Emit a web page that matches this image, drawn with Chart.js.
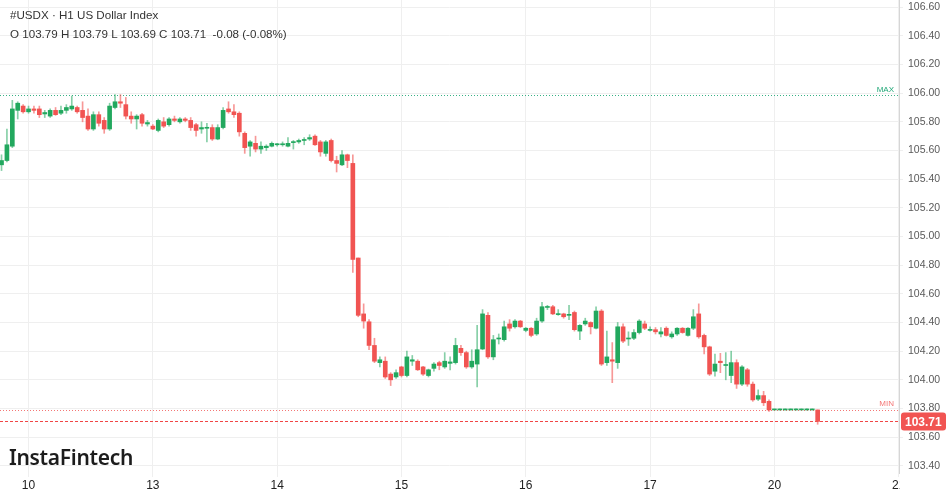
<!DOCTYPE html>
<html>
<head>
<meta charset="utf-8">
<script src="https://cdn.jsdelivr.net/npm/chart.js@4"></script>
<style>
  html, body { margin: 0; padding: 0; background: #fff; }
  #wrap { position: relative; width: 949px; height: 494px; }
  #head { position: absolute; left: 10px; top: 5px; font: 11.6px "Liberation Sans", Arial, sans-serif; color: #333; line-height: 19px; }
  #logo { position: absolute; left: 9px; top: 443px; font: 600 21px "Noto Sans", sans-serif; color: #1c1c1c; letter-spacing: -0.3px; }
</style>
</head>
<body>
<div id="wrap">
  <canvas id="chart"></canvas>
  <div id="head">
    <div>#USDX · H1 US Dollar Index</div>
    <div>O 103.79 H 103.79 L 103.69 C 103.71&nbsp; -0.08 (-0.08%)</div>
  </div>
  <div id="logo">InstaFintech</div>
</div>
<script>
// hourly candles, 23 per trading day, Jan 9 (last hours) .. Jan 20
const opens = [
  105.50, 105.53, 105.63, 105.88, 105.91,
  105.87, 105.89, 105.89, 105.855, 105.84, 105.88, 105.86, 105.88, 105.89, 105.90, 105.88, 105.84, 105.75, 105.85, 105.81, 105.75, 105.90, 105.94, 105.92, 105.84, 105.82, 105.85, 105.785,
  105.77, 105.74, 105.80, 105.78, 105.82, 105.80, 105.82, 105.81, 105.78, 105.75, 105.755, 105.76, 105.68, 105.76, 105.89, 105.87, 105.86, 105.72, 105.63, 105.65, 105.61, 105.62, 105.63, 105.64, 105.64,
  105.63, 105.655, 105.66, 105.67, 105.68, 105.70, 105.66, 105.58, 105.67, 105.53, 105.50, 105.57, 105.51, 104.85, 104.46, 104.405, 104.24, 104.12, 104.13, 104.04, 104.02,
  104.09, 104.03, 104.13, 104.13, 104.09, 104.03, 104.08, 104.12, 104.09, 104.115, 104.12, 104.22, 104.19, 104.09, 104.11, 104.215, 104.45, 104.16, 104.285, 104.28, 104.39, 104.37, 104.41,
  104.345, 104.36, 104.32, 104.41, 104.505, 104.51, 104.455, 104.46, 104.45, 104.47, 104.34, 104.39, 104.40, 104.36, 104.48, 104.12, 104.14, 104.12, 104.37, 104.285, 104.29, 104.33, 104.39,
  104.345, 104.35, 104.32, 104.36, 104.30, 104.32, 104.36, 104.31, 104.36, 104.46, 104.31, 104.23, 104.06, 104.13, 104.10, 104.03, 104.12, 103.97, 104.07, 103.97, 103.865, 103.89, 103.85,
  103.79, 103.79, 103.79, 103.79, 103.79, 103.79, 103.79, 103.79, 103.79
];
const highs = [
  105.57, 105.75, 105.95, 105.94, 105.92,
  105.91, 105.91, 105.91, 105.88, 105.89, 105.90, 105.91, 105.92, 105.98, 105.91, 105.94, 105.89, 105.87, 105.87, 105.83, 105.93, 105.99, 105.99, 105.97, 105.87, 105.85, 105.86, 105.81,
  105.78, 105.82, 105.83, 105.83, 105.84, 105.83, 105.83, 105.83, 105.79, 105.80, 105.79, 105.78, 105.78, 105.90, 105.94, 105.92, 105.87, 105.73, 105.67, 105.70, 105.66, 105.64, 105.66, 105.65, 105.66,
  105.69, 105.67, 105.68, 105.69, 105.71, 105.71, 105.67, 105.67, 105.68, 105.56, 105.60, 105.575, 105.57, 104.85, 104.53, 104.42, 104.29, 104.16, 104.16, 104.05, 104.07,
  104.095, 104.20, 104.17, 104.14, 104.095, 104.075, 104.12, 104.13, 104.19, 104.16, 104.29, 104.24, 104.20, 104.21, 104.38, 104.49, 104.47, 104.31, 104.32, 104.41, 104.42, 104.42, 104.415,
  104.365, 104.365, 104.43, 104.54, 104.52, 104.52, 104.49, 104.465, 104.52, 104.48, 104.385, 104.43, 104.405, 104.51, 104.49, 104.34, 104.26, 104.40, 104.39, 104.335, 104.35, 104.42, 104.41,
  104.37, 104.365, 104.365, 104.37, 104.335, 104.365, 104.365, 104.365, 104.49, 104.53, 104.32, 104.235, 104.18, 104.185, 104.19, 104.20, 104.14, 104.10, 104.08, 103.985, 103.93, 103.92, 103.86,
  103.79, 103.79, 103.79, 103.79, 103.79, 103.79, 103.79, 103.79, 103.79
];
const lows = [
  105.46, 105.52, 105.62, 105.82, 105.86,
  105.86, 105.86, 105.83, 105.83, 105.83, 105.845, 105.85, 105.86, 105.88, 105.86, 105.80, 105.74, 105.74, 105.77, 105.72, 105.74, 105.89, 105.90, 105.82, 105.79, 105.75, 105.77, 105.77,
  105.745, 105.73, 105.76, 105.77, 105.80, 105.79, 105.80, 105.74, 105.70, 105.72, 105.66, 105.67, 105.675, 105.75, 105.86, 105.83, 105.70, 105.58, 105.56, 105.59, 105.58, 105.60, 105.625, 105.63, 105.63,
  105.625, 105.61, 105.65, 105.64, 105.67, 105.635, 105.56, 105.56, 105.52, 105.45, 105.495, 105.48, 104.75, 104.44, 104.36, 104.21, 104.12, 104.09, 104.01, 103.96, 104.01,
  104.02, 104.02, 104.10, 104.065, 104.03, 104.02, 104.06, 104.07, 104.08, 104.07, 104.11, 104.17, 104.08, 104.08, 103.95, 104.21, 104.15, 104.14, 104.25, 104.27, 104.34, 104.36, 104.365,
  104.335, 104.30, 104.31, 104.40, 104.49, 104.455, 104.45, 104.43, 104.42, 104.34, 104.28, 104.38, 104.32, 104.355, 104.10, 104.10, 103.98, 104.08, 104.26, 104.24, 104.28, 104.32, 104.35,
  104.34, 104.32, 104.30, 104.305, 104.29, 104.31, 104.325, 104.305, 104.35, 104.29, 104.18, 104.03, 104.025, 104.05, 104.00, 103.98, 103.94, 103.96, 103.955, 103.85, 103.855, 103.82, 103.78,
  103.79, 103.79, 103.79, 103.79, 103.79, 103.79, 103.79, 103.79, 103.69
];
const closes = [
  105.53, 105.64, 105.89, 105.93, 105.87,
  105.89, 105.88, 105.85, 105.865, 105.88, 105.85, 105.88, 105.90, 105.91, 105.87, 105.83, 105.75, 105.85, 105.79, 105.75, 105.91, 105.94, 105.93, 105.84, 105.82, 105.84, 105.79, 105.795,
  105.75, 105.81, 105.77, 105.82, 105.81, 105.82, 105.81, 105.76, 105.74, 105.76, 105.76, 105.68, 105.76, 105.88, 105.87, 105.85, 105.73, 105.62, 105.66, 105.61, 105.63, 105.63, 105.65, 105.645, 105.645,
  105.65, 105.66, 105.67, 105.675, 105.69, 105.64, 105.59, 105.66, 105.53, 105.51, 105.57, 105.53, 104.84, 104.45, 104.41, 104.24, 104.13, 104.14, 104.02, 104.00, 104.05,
  104.03, 104.16, 104.14, 104.07, 104.04, 104.07, 104.11, 104.10, 104.13, 104.125, 104.24, 104.19, 104.09, 104.13, 104.21, 104.46, 104.16, 104.28, 104.29, 104.37, 104.36, 104.41, 104.37,
  104.36, 104.31, 104.41, 104.51, 104.51, 104.46, 104.46, 104.44, 104.455, 104.35, 104.38, 104.41, 104.37, 104.48, 104.11, 104.16, 104.13, 104.37, 104.27, 104.29, 104.33, 104.41, 104.36,
  104.35, 104.335, 104.335, 104.31, 104.32, 104.36, 104.33, 104.36, 104.44, 104.30, 104.23, 104.04, 104.11, 104.12, 104.105, 104.12, 103.97, 104.09, 103.97, 103.86, 103.89, 103.84, 103.79,
  103.79, 103.79, 103.79, 103.79, 103.79, 103.79, 103.79, 103.79, 103.71
];

// x axis: candle index where each day starts
const dayStarts = [5, 28, 51, 74, 97, 120, 143, 166];
const dayLabels = ['10', '13', '14', '15', '16', '17', '20', '21'];
const yTickValues = [103.4, 103.6, 103.8, 104.0, 104.2, 104.4, 104.6, 104.8, 105.0, 105.2, 105.4, 105.6, 105.8, 106.0, 106.2, 106.4, 106.6];

const maxLevel = 105.99;
const minLevel = 103.79;
const lastClose = 103.71;

const GREEN = 'rgb(34, 168, 94)';
const RED = 'rgb(241, 84, 82)';
const GREEN_WICK = 'rgba(34, 168, 94, 0.55)';
const RED_WICK = 'rgba(241, 84, 82, 0.6)';
const GRID = '#efefef';

const isUp = i => closes[i] >= opens[i];

const bodyData = opens.map((o, i) => ({x: i, y: [o, closes[i]]}));
const wickData = lows.map((l, i) => ({x: i, y: [l, highs[i]]}));

/** levelLines: max/min dotted lines, last price line and its tag on the axis */
const levelLines = {
    id: 'levelLines',
    beforeDatasetsDraw(chart) {
        const {ctx, chartArea: area, scales: {y}} = chart;
        ctx.save();
        ctx.lineWidth = 1;

        // max and min, dotted
        ctx.setLineDash([1, 2]);
        ctx.strokeStyle = 'rgba(34, 168, 120, 0.9)';
        let py = Math.round(y.getPixelForValue(maxLevel)) + 0.5;
        ctx.beginPath(); ctx.moveTo(area.left, py); ctx.lineTo(area.right, py); ctx.stroke();

        ctx.strokeStyle = 'rgba(241, 84, 82, 0.8)';
        py = Math.round(y.getPixelForValue(minLevel)) + 0.5;
        ctx.beginPath(); ctx.moveTo(area.left, py); ctx.lineTo(area.right, py); ctx.stroke();

        // last close, dashed
        ctx.setLineDash([3, 2]);
        ctx.strokeStyle = 'rgb(240, 70, 70)';
        py = Math.round(y.getPixelForValue(lastClose)) + 0.5;
        ctx.beginPath(); ctx.moveTo(area.left, py); ctx.lineTo(area.right, py); ctx.stroke();
        ctx.restore();
    },
    afterDraw(chart) {
        const {ctx, chartArea: area, scales: {y}} = chart;
        ctx.save();
        // the day label past the plot is cut off by the price panel
        ctx.fillStyle = '#fff';
        ctx.fillRect(area.right + 1, area.bottom + 1, chart.width - area.right, chart.height - area.bottom);

        ctx.font = '8px "Liberation Sans", Arial, sans-serif';
        ctx.textAlign = 'right';
        ctx.textBaseline = 'bottom';
        ctx.fillStyle = 'rgb(34, 168, 120)';
        ctx.fillText('MAX', area.right - 5, y.getPixelForValue(maxLevel) - 1);
        ctx.fillStyle = 'rgba(241, 84, 82, 0.8)';
        ctx.fillText('MIN', area.right - 5, y.getPixelForValue(minLevel) - 2);

        // price tag
        const py = y.getPixelForValue(lastClose);
        ctx.fillStyle = RED;
        ctx.beginPath();
        ctx.roundRect(area.right + 2, py - 9, 45, 18, 3);
        ctx.fill();
        ctx.fillStyle = '#fff';
        ctx.font = 'bold 12px "Liberation Sans", Arial, sans-serif';
        ctx.textAlign = 'left';
        ctx.textBaseline = 'middle';
        ctx.fillText(lastClose.toFixed(2), area.right + 6, py + 1);
        ctx.restore();
    }
};

const chart = new Chart(document.getElementById('chart'), {
    type: 'bar',
    data: {
        datasets: [
            {
                label: 'body',
                data: bodyData,
                grouped: false,
                barThickness: 4,
                minBarLength: 1,
                borderWidth: 0,
                backgroundColor: ctx => isUp(ctx.dataIndex) ? GREEN : RED,
                order: 0
            },
            {
                label: 'wick',
                data: wickData,
                grouped: false,
                barThickness: 1,
                minBarLength: 1,
                borderWidth: 0,
                backgroundColor: ctx => isUp(ctx.dataIndex) ? GREEN_WICK : RED_WICK,
                order: 1
            }
        ]
    },
    options: {
        responsive: true,
        maintainAspectRatio: false,
        animation: false,
        layout: { padding: 0 },
        plugins: {
            legend: { display: false },
            tooltip: { enabled: false }
        },
        scales: {
            x: {
                type: 'linear',
                min: -0.28,
                max: 166.05,
                offset: false,
                afterBuildTicks: scale => {
                    scale.ticks = dayStarts.map(v => ({value: v}));
                },
                afterFit: scale => {
                    scale.height = 21;
                    scale.paddingLeft = 0;
                    scale.paddingRight = 0;
                },
                ticks: {
                    autoSkip: false,
                    maxRotation: 0,
                    padding: 1,
                    color: '#222',
                    font: { family: '"Liberation Sans", Arial, sans-serif', size: 12 },
                    callback: value => dayLabels[dayStarts.indexOf(value)]
                },
                grid: { color: GRID, tickLength: 4, offset: false },
                border: { display: false }
            },
            y: {
                position: 'right',
                min: 103.35,
                max: 106.65,
                afterBuildTicks: scale => {
                    scale.ticks = yTickValues.map(v => ({value: v}));
                },
                afterFit: scale => {
                    scale.width = 50;
                    scale.paddingTop = 0;
                    scale.paddingBottom = 0;
                },
                ticks: {
                    padding: 5,
                    color: '#5a5a5a',
                    font: { family: '"Liberation Sans", Arial, sans-serif', size: 10.5 },
                    callback: value => value.toFixed(2)
                },
                grid: { color: GRID, tickLength: 4 },
                border: { display: true, color: '#d6d6d6' }
            }
        }
    },
    plugins: [levelLines]
});
</script>
</body>
</html>
